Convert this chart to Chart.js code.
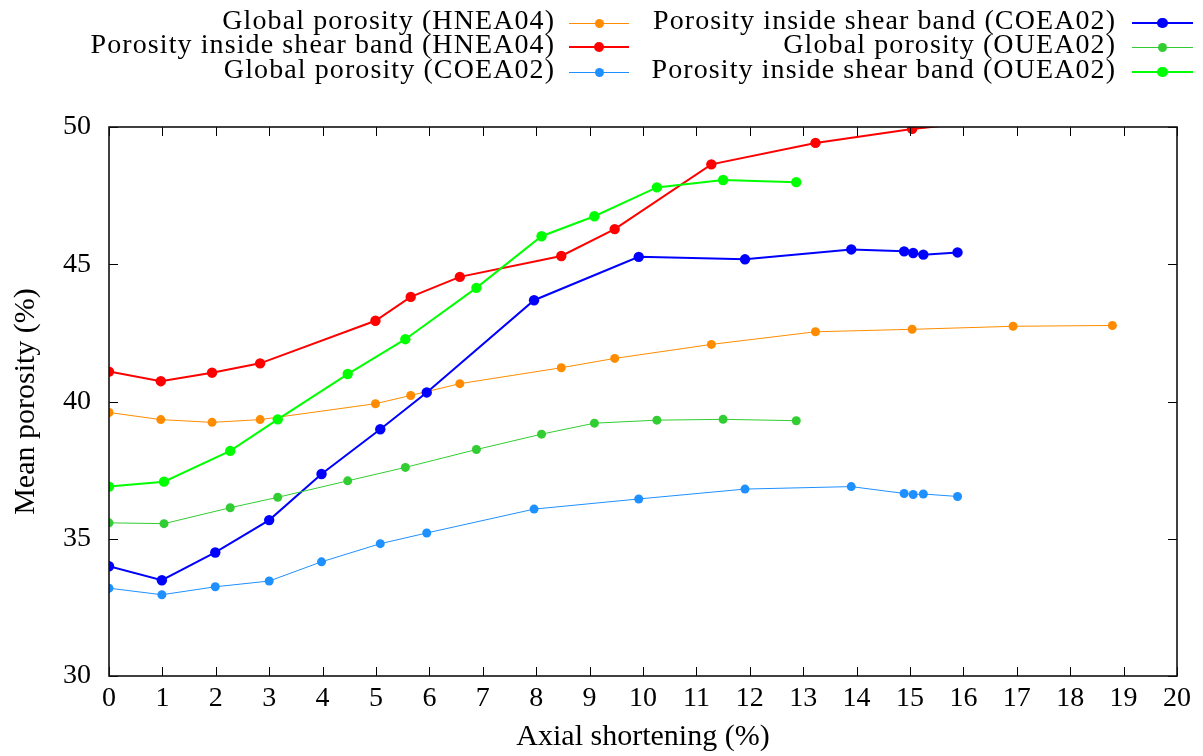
<!DOCTYPE html>
<html><head><meta charset="utf-8">
<script src="https://cdn.jsdelivr.net/npm/chart.js@4.4.0/dist/chart.umd.min.js"></script>
<style>
html,body{margin:0;padding:0;background:#fff;}
#wrap{position:relative;width:1203px;height:756px;overflow:hidden;}
#c{position:absolute;left:0;top:0;}
.lt{position:absolute;font-family:"Liberation Serif",serif;font-size:28px;line-height:28px;white-space:nowrap;color:#000;text-align:right;letter-spacing:1.1px;}
.ls{position:absolute;}
.ld{position:absolute;border-radius:50%;}
</style></head>
<body><div id="wrap"><canvas id="c" width="1203" height="756"></canvas><div id="legend"></div></div>
<script>
// Axial shortening (%) for each test
const hneaX = [0, 0.97, 1.93, 2.83, 4.99, 5.65, 6.57, 8.47, 9.47, 11.28, 13.23, 15.04, 16.93, 18.79];
const hneaGlobal = [39.60, 39.34, 39.24, 39.34, 39.92, 40.22, 40.65, 41.23, 41.57, 42.08, 42.54, 42.63, 42.74, 42.77];
const hneaBand = [41.09, 40.74, 41.05, 41.39, 42.94, 43.81, 44.54, 45.30, 46.28, 48.64, 49.42, 49.93, 50.30, 50.40];

const coeaX = [0, 0.99, 1.99, 3.00, 3.98, 5.08, 5.95, 7.96, 9.92, 11.91, 13.90, 14.89, 15.06, 15.25, 15.89];
const coeaGlobal = [33.20, 32.96, 33.25, 33.46, 34.16, 34.82, 35.21, 36.08, 36.45, 36.81, 36.90, 36.65, 36.61, 36.63, 36.54];
const coeaBand = [34.00, 33.49, 34.50, 35.68, 37.36, 38.99, 40.33, 43.69, 45.27, 45.18, 45.54, 45.47, 45.41, 45.35, 45.43];

const oueaX = [0, 1.03, 2.27, 3.16, 4.47, 5.55, 6.88, 8.10, 9.09, 10.26, 11.50, 12.87];
const oueaGlobal = [35.58, 35.55, 36.13, 36.51, 37.11, 37.60, 38.25, 38.81, 39.21, 39.32, 39.35, 39.30];
const oueaBand = [36.90, 37.08, 38.20, 39.35, 41.00, 42.27, 44.14, 46.02, 46.75, 47.80, 48.07, 47.99];

const seriesLabels = [
  "Global porosity (HNEA04)",
  "Porosity inside shear band (HNEA04)",
  "Global porosity (COEA02)",
  "Porosity inside shear band (COEA02)",
  "Global porosity (OUEA02)",
  "Porosity inside shear band (OUEA02)"
];
const xTicks = [0,1,2,3,4,5,6,7,8,9,10,11,12,13,14,15,16,17,18,19,20];
const yTicks = [30,35,40,45,50];

const zip = (xs, ys) => xs.map((x, i) => ({x: x, y: ys[i]}));
const seriesData = [
  zip(hneaX, hneaGlobal), zip(hneaX, hneaBand),
  zip(coeaX, coeaGlobal), zip(coeaX, coeaBand),
  zip(oueaX, oueaGlobal), zip(oueaX, oueaBand)
];
const colors = ['#ff8c00', '#ff0000', '#1e90ff', '#0000ff', '#32cd32', '#00ff00'];
const widths = [1, 2, 1, 2, 1, 2];
const radii = [4.5, 5.2, 4.5, 5.2, 4.5, 5.2];

const datasets = seriesData.map((d, i) => ({
  label: seriesLabels[i],
  data: d,
  borderColor: colors[i],
  backgroundColor: colors[i],
  pointBackgroundColor: colors[i],
  pointBorderWidth: 0,
  pointRadius: radii[i],
  borderWidth: widths[i],
  tension: 0,
  fill: false,
  clip: 0,
  order: 5 - i
}));

const frameTicks = {
  id: 'frameTicks',
  afterDraw(chart) {
    const {ctx, chartArea: a, scales: {x, y}} = chart;
    ctx.save();
    ctx.strokeStyle = '#000';
    ctx.lineWidth = 1;
    const L = 9;
    ctx.beginPath();
    xTicks.forEach(v => {
      const px = Math.round(x.getPixelForValue(v)) + 0.5;
      ctx.moveTo(px, a.bottom); ctx.lineTo(px, a.bottom - L);
      ctx.moveTo(px, a.top); ctx.lineTo(px, a.top + L);
    });
    yTicks.forEach(v => {
      const py = Math.round(y.getPixelForValue(v)) + 0.5;
      ctx.moveTo(a.left, py); ctx.lineTo(a.left + L, py);
      ctx.moveTo(a.right, py); ctx.lineTo(a.right - L, py);
    });
    ctx.stroke();
    ctx.lineWidth = 1.6;
    ctx.strokeStyle = '#111';
    ctx.strokeRect(a.left, a.top, a.right - a.left, a.bottom - a.top);
    ctx.restore();
  }
};

function buildLegend() {
  const lg = document.getElementById('legend');
  const rowsY = [19.5, 44.2, 68.8];
  const lineY = [23, 47, 72];
  const cols = [
    {textRight: 554, x1: 569, x2: 629},
    {textRight: 1115, x1: 1132, x2: 1193}
  ];
  seriesLabels.forEach((lab, i) => {
    const c = cols[Math.floor(i / 3)], r = i % 3;
    const t = document.createElement('div');
    t.className = 'lt';
    t.textContent = lab;
    t.style.right = (1203 - c.textRight - 1.1) + 'px';
    t.style.top = (rowsY[r] - 14) + 'px';
    lg.appendChild(t);
    const s = document.createElement('div');
    s.className = 'ls';
    s.style.left = c.x1 + 'px';
    s.style.width = (c.x2 - c.x1) + 'px';
    s.style.top = Math.round(lineY[r] - widths[i] / 2) + 'px';
    s.style.height = widths[i] + 'px';
    s.style.background = colors[i];
    lg.appendChild(s);
    const d = document.createElement('div');
    d.className = 'ld';
    const rr = radii[i];
    d.style.left = ((c.x1 + c.x2) / 2 - rr) + 'px';
    d.style.top = (lineY[r] - rr) + 'px';
    d.style.width = (2 * rr) + 'px';
    d.style.height = (2 * rr) + 'px';
    d.style.background = colors[i];
    lg.appendChild(d);
  });
}

Chart.defaults.font.family = '"Liberation Serif", serif';
Chart.defaults.color = '#000';

function draw() {
  buildLegend();
  new Chart(document.getElementById('c'), {
    type: 'line',
    data: {datasets: datasets},
    options: {
      responsive: false,
      animation: false,
      devicePixelRatio: 1,
      layout: {padding: {top: 127, right: 26, left: 0, bottom: 0}},
      plugins: {legend: {display: false}, tooltip: {enabled: false}},
      scales: {
        x: {
          type: 'linear', min: 0, max: 20,
          afterFit: s => { s.height = 80; },
          afterBuildTicks: s => { s.ticks = xTicks.map(v => ({value: v})); },
          grid: {display: false}, border: {display: false},
          ticks: {font: {size: 28}, padding: -2, maxRotation: 0, autoSkip: false, color: '#000'},
          title: {display: true, text: 'Axial shortening (%)', font: {size: 30}, padding: {top: 0, bottom: 1}, color: '#000'}
        },
        y: {
          type: 'linear', min: 30, max: 50,
          afterFit: s => { s.width = 109; },
          afterBuildTicks: s => { s.ticks = yTicks.map(v => ({value: v})); },
          grid: {display: false}, border: {display: false},
          ticks: {font: {size: 28}, padding: 10, color: '#000'},
          title: {display: true, text: 'Mean porosity (%)', font: {size: 30}, padding: {top: 8, bottom: 0}, color: '#000'}
        }
      }
    },
    plugins: [frameTicks]
  });
}
if (document.fonts && document.fonts.load) {
  document.fonts.load('28px "Liberation Serif"').then(draw, draw);
} else { draw(); }
</script>
</body></html>
